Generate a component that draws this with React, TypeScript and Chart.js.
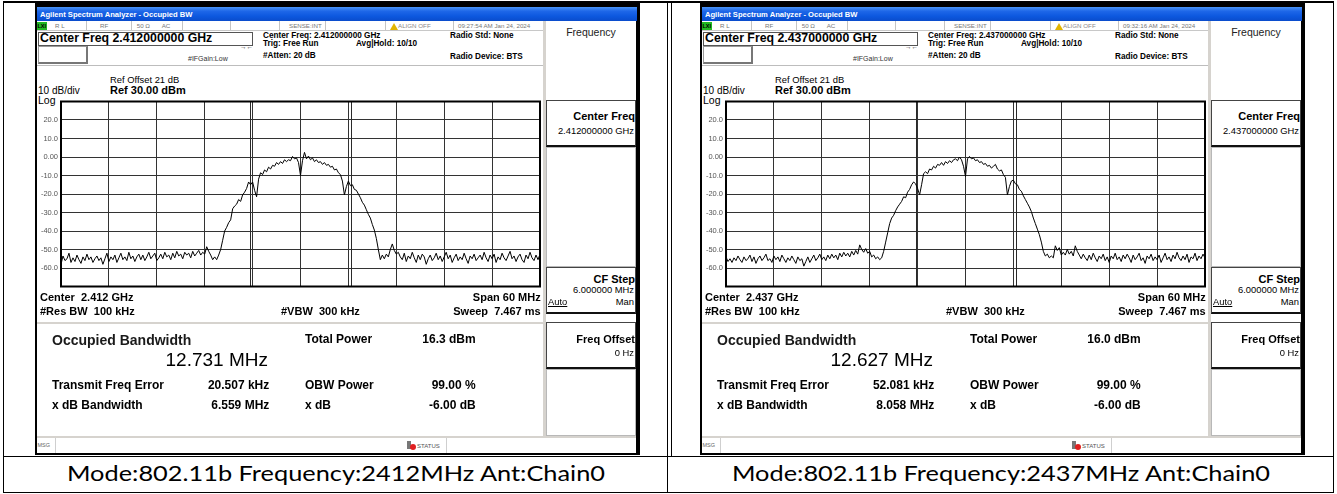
import React, { useEffect, useLayoutEffect, useRef } from 'react';
import { Chart, registerables } from 'chart.js';

Chart.register(...registerables);

// ---------------- data ----------------
const CHANNELS_MHZ = ['2412', '2437'];
const CENTER_GHZ = ['2.412', '2.437'];
const TIMESTAMPS = ['09:27:54 AM Jan 24, 2024', '09:32:16 AM Jan 24, 2024'];
const OBW_MHZ = [12.731, 12.627];
const FREQ_ERR_KHZ = [20.507, 52.081];
const XDB_BW_MHZ = [6.559, 8.058];
const TOTAL_POWER_DBM = [16.3, 16.0];
const OBW_POWER_PCT = 99.0;
const XDB_DB = -6.0;
const SPAN_MHZ = 60;
const REF_LEVEL_DBM = 30;
const DB_PER_DIV = 10;

// trace values (dBm), evenly spaced across the 60 MHz span (241 points)
const TRACE_2412 = [
  -58, -53.5, -56, -55, -52, -57, -54.5, -56.5, -53, -55.5,
  -57.5, -54, -56, -52.5, -55.5, -54, -57, -55, -53.5, -56,
  -54.5, -58, -55, -52, -56.5, -54, -55.5, -53, -57, -54.5,
  -52, -55.5, -54, -56, -51.5, -55, -53.5, -56.5, -54, -52.5,
  -55.5, -53, -56, -54, -51.5, -55, -53.5, -52, -56, -54.5,
  -52.5, -55, -51.5, -54, -53, -55.5, -52, -54.5, -51, -53.5,
  -52.5, -55, -51.5, -53, -52, -54.5, -51, -53.5, -52, -50.5,
  -53, -51.5, -52.5, -48.5, -51, -53, -55.5, -54, -55.5, -53,
  -50, -45, -40, -38, -35.5, -34, -28, -26.5, -25.5, -23,
  -24, -20.5, -19, -17, -13.5, -15, -13.5, -18, -21.5, -12,
  -8.5, -9.5, -7, -8, -5.5, -6.5, -4.5, -5, -3, -4,
  -2.5, -3.5, -1.5, -2.5, -1.5, -2, 0.3, -1, -0.5, -3,
  -10, -2, 2.5, -1, 0.5, -1.5, -0.5, -2.5, -1.5, -3,
  -2.5, -4, -3, -4.5, -4, -5.5, -5, -7, -6.5, -8.5,
  -9.5, -13, -20.5, -16, -13, -15.5, -15, -17.5, -18, -20,
  -22, -24.5, -26, -28.5, -31, -33, -36.5, -39.5, -44, -50,
  -55.5, -53, -55, -52.5, -54, -50, -47, -50.5, -52.5, -51.5,
  -54, -55.5, -52, -56.5, -53.5, -55, -51.5, -54.5, -57, -53,
  -55.5, -52.5, -54, -58, -55, -53, -56, -54.5, -52, -55.5,
  -53.5, -56.5, -54, -51.5, -55, -53, -57, -54.5, -52.5, -56,
  -54, -55.5, -52, -55, -57.5, -53.5, -55, -52.5, -56, -54.5,
  -53, -55.5, -51.5, -54.5, -56.5, -53, -55, -52.5, -57, -54,
  -55.5, -52, -54.5, -56, -53.5, -51, -55, -53.5, -56.5, -54,
  -52.5, -55.5, -57, -53, -55, -51.5, -54.5, -56, -53, -55.5,
  -52.5,
];

const TRACE_2437 = [
  -54, -56.5, -55, -57, -54.5, -56, -53.5, -55.5, -57, -54,
  -56, -55, -53, -56.5, -54, -57.5, -55, -53.5, -56, -54.5,
  -52.5, -56, -55, -57, -53.5, -55.5, -54, -56.5, -53, -55,
  -57, -54.5, -56, -53.5, -55.5, -57.5, -54, -56, -55, -59,
  -56.5, -54, -57, -55, -53, -56, -54.5, -52.5, -55.5, -54,
  -56, -53, -55, -52.5, -54.5, -53, -55.5, -52, -54, -51.5,
  -53.5, -52, -54, -51, -53, -50.5, -52.5, -47.5, -50, -51.5,
  -49.5, -52, -51, -54, -53, -55, -54, -55.5, -54.5, -51,
  -46, -41, -36, -33, -31.5, -29, -27, -25.5, -24, -21.5,
  -22, -19, -17.5, -15, -13.5, -14.5, -17, -20.5, -15, -9,
  -8, -9, -6.5, -7, -5, -6, -4, -4.5, -3, -4.5,
  -2.5, -3.5, -2, -3, -1.5, -1, -2, 0, -1.5, -5,
  -10.5, -1, 0.3, -1, -0.5, -2, -1.5, -3, -2.5, -4,
  -3.5, -5, -4.5, -6, -5, -4, -6.5, -7.5, -7, -9.5,
  -11, -20.5, -16, -13, -12.5, -14.5, -15, -17.5, -18.5, -21,
  -23, -25, -27, -29.5, -33, -36, -39, -42, -46, -51,
  -53.5, -52.5, -54.5, -53.5, -54.5, -48, -50.5, -49, -53, -51.5,
  -53, -50, -52.5, -51, -53.5, -48, -51, -53, -55, -52.5,
  -54.5, -56, -53, -55.5, -52, -54.5, -56.5, -53.5, -55, -52.5,
  -56, -54, -57, -53.5, -55, -52, -55.5, -54, -56.5, -53,
  -55, -52.5, -54.5, -57, -53, -55.5, -54, -52, -56, -54.5,
  -57.5, -53.5, -55, -52.5, -56, -54, -55.5, -53, -57, -54.5,
  -52, -55.5, -54, -56.5, -53, -55, -51.5, -54.5, -56, -53.5,
  -55.5, -52.5, -57, -54, -55, -52, -56, -53.5, -55, -52.5,
  -54.5,
];

const TRACES = [TRACE_2412, TRACE_2437];

// ---------------- helpers ----------------
const FONT = '"Liberation Sans", Arial, sans-serif';

type TProps = {
  x: number; y: number; s: number; b?: boolean; a?: 'l' | 'r' | 'c';
  c?: string; u?: boolean; children: React.ReactNode;
};
function T({ x, y, s, b, a = 'l', c = '#000', u, children }: TProps) {
  const tx = a === 'r' ? 'translateX(-100%)' : a === 'c' ? 'translateX(-50%)' : undefined;
  return (
    <div
      style={{
        position: 'absolute', left: x, top: y - 0.85 * s, fontSize: s, lineHeight: `${s}px`,
        fontWeight: b ? 700 : 400, color: c, whiteSpace: 'pre', transform: tx,
        fontFamily: FONT, textDecoration: u ? 'underline' : undefined,
      }}
    >
      {children}
    </div>
  );
}

function B({ x, y, w, h, s }: { x: number; y: number; w: number; h: number; s?: React.CSSProperties }) {
  return <div style={{ position: 'absolute', left: x, top: y, width: w, height: h, boxSizing: 'border-box', ...s }} />;
}

const framePlugin = {
  id: 'saFrame',
  beforeDatasetsDraw(chart: any, _args: any, opts: any) {
    const { ctx, chartArea, scales } = chart;
    ctx.save();
    ctx.strokeStyle = '#2a2a2a';
    ctx.lineWidth = 1;
    (opts.markers || []).forEach((m: number) => {
      const px = Math.round(scales.x.getPixelForValue(m)) + 0.5;
      ctx.beginPath();
      ctx.moveTo(px, chartArea.top);
      ctx.lineTo(px, chartArea.bottom);
      ctx.stroke();
    });
    ctx.restore();
  },
  afterDraw(chart: any) {
    const { ctx, chartArea } = chart;
    ctx.save();
    ctx.strokeStyle = '#000';
    ctx.lineWidth = 2;
    ctx.strokeRect(chartArea.left, chartArea.top, chartArea.right - chartArea.left, chartArea.bottom - chartArea.top);
    ctx.restore();
  },
};

function Plot({ x, y, trace, markers }: { x: number; y: number; trace: number[]; markers: number[] }) {
  const ref = useRef<HTMLCanvasElement>(null);
  useEffect(() => {
    const half = SPAN_MHZ / 2;
    const step = SPAN_MHZ / (trace.length - 1);
    const pts = trace.map((v, i) => ({ x: -half + i * step, y: v }));
    const top = REF_LEVEL_DBM;
    const bottom = REF_LEVEL_DBM - 10 * DB_PER_DIV;
    const chart = new Chart(ref.current as HTMLCanvasElement, {
      type: 'line',
      data: {
        datasets: [{
          data: pts, borderColor: '#000', borderWidth: 1, pointRadius: 0, tension: 0, fill: false,
        }],
      },
      options: {
        animation: false,
        responsive: false,
        maintainAspectRatio: false,
        events: [],
        layout: { padding: { top: 3, right: 2, bottom: 2, left: 0 }, autoPadding: false },
        plugins: {
          legend: { display: false },
          tooltip: { enabled: false },
          saFrame: { markers },
        } as any,
        scales: {
          x: {
            type: 'linear', min: -half, max: half,
            ticks: { display: false, stepSize: SPAN_MHZ / 10 },
            grid: { color: '#333', drawTicks: false, lineWidth: 1 },
            border: { display: false },
            afterFit: (s: any) => { s.height = 0; },
          },
          y: {
            type: 'linear', min: bottom, max: top,
            ticks: {
              stepSize: DB_PER_DIV, padding: 3, color: '#555',
              font: { family: '"Liberation Sans", Arial, sans-serif', size: 7.5 },
              callback: (v: any) => (v === top || v === bottom ? '' : v === 0 ? '0.00' : Number(v).toFixed(1)),
            },
            grid: { color: '#333', drawTicks: false, lineWidth: 1 },
            border: { display: false },
            afterFit: (s: any) => { s.width = 23; },
          },
        },
      } as any,
      plugins: [framePlugin as any],
    });
    return () => chart.destroy();
  }, []);
  return (
    <canvas
      ref={ref}
      width={504}
      height={200}
      style={{ position: 'absolute', left: x, top: y, width: 504, height: 200 }}
    />
  );
}

function SoftKey({ y, h, strong }: { y: number; h: number; strong?: boolean }) {
  return (
    <B x={511} y={y} w={90} h={h} s={{
      background: '#fff',
      border: strong ? '1px solid #444' : '1px solid #b8b8b8',
      borderBottom: strong ? '2px solid #111' : '1px solid #b8b8b8',
    }} />
  );
}

function Screen({ x0, idx }: { x0: number; idx: number }) {
  const cf = `${CENTER_GHZ[idx]}000000`;
  const ferrMHz = FREQ_ERR_KHZ[idx] / 1000;
  const obw = OBW_MHZ[idx];
  const markers = [ferrMHz - obw / 2, ferrMHz + obw / 2];
  const sep = '#d6d3ce';
  const statusSeps = [51, 96, 146.7, 195, 244.3, 290, 350, 417.7];
  return (
    <div style={{ position: 'absolute', left: x0, top: 0, width: 606, height: 456 }}>
      <B x={0} y={3} w={605} h={452} s={{ background: '#000' }} />
      <B x={2} y={7} w={599} h={446} s={{ background: '#fff' }} />
      {/* title bar */}
      <B x={2} y={7} w={600} h={13.5} s={{ background: 'linear-gradient(to bottom, #4a94f7 0%, #1e67e8 30%, #0d58df 65%, #0a4ccc 100%)' }} />
      <T x={5} y={17.3} s={7.6} b c="#fff">Agilent Spectrum Analyzer - Occupied BW</T>
      {/* status row */}
      <B x={2} y={20.5} w={506} h={10} s={{ background: '#fff', borderBottom: '1px solid #c8c8c8' }} />
      {statusSeps.map((sx) => <B key={sx} x={sx} y={21} w={1} h={9} s={{ background: '#c4c4c4' }} />)}
      <B x={2} y={21.5} w={10} h={8} s={{ background: '#22b822' }} />
      <T x={2.5} y={28.3} s={5.5} b>LXI</T>
      <T x={20} y={28.3} s={6.2} c="#777">R L</T>
      <T x={65} y={28.3} s={6.2} c="#777">RF</T>
      <T x={101.7} y={28.3} s={6.2} c="#777">50 Ω</T>
      <T x={126.7} y={28.3} s={6.2} c="#777">AC</T>
      <T x={254} y={28.3} s={6.2} c="#777">SENSE:INT</T>
      <div style={{ position: 'absolute', left: 355, top: 22.5, width: 0, height: 0, borderLeft: '4px solid transparent', borderRight: '4px solid transparent', borderBottom: '7px solid #e2b400' }} />
      <T x={363} y={28.3} s={6.2} c="#888">ALIGN OFF</T>
      <T x={423} y={28.3} s={6.2} c="#777">{TIMESTAMPS[idx]}</T>
      {/* center freq header */}
      <B x={3} y={31.5} w={215} h={14} s={{ border: '1px solid #555', background: '#fff' }} />
      <T x={5} y={42.5} s={12.3} b>{`Center Freq ${cf} GHz`}</T>
      <B x={3} y={46} w={50} h={17.5} s={{ border: '1px solid #9a9a9a', borderRight: '2px solid #777', borderBottom: '2px solid #777' }} />
      <T x={205} y={50} s={6.5} c="#333">→←</T>
      <T x={153} y={61} s={7} c="#333">#IFGain:Low</T>
      <T x={228} y={39} s={8.2} b>{`Center Freq: ${cf} GHz`}</T>
      <T x={228} y={46.5} s={8.2} b>Trig: Free Run</T>
      <T x={321} y={46.5} s={8.2} b>Avg|Hold: 10/10</T>
      <T x={228} y={59} s={8.2} b>#Atten: 20 dB</T>
      <T x={415} y={38.5} s={8.2} b>Radio Std: None</T>
      <T x={415} y={59.5} s={8.2} b>Radio Device: BTS</T>
      <B x={2} y={64.5} w={506} h={1} s={{ background: '#bdbdbd' }} />
      {/* ref text */}
      <T x={75} y={83} s={9.4}>Ref Offset 21 dB</T>
      <T x={75} y={94} s={11} b>{`Ref ${REF_LEVEL_DBM.toFixed(2)} dBm`}</T>
      <T x={3} y={94} s={10}>{`${DB_PER_DIV} dB/div`}</T>
      <T x={3} y={104} s={10.5}>Log</T>
      {/* plot */}
      <Plot x={3} y={94} trace={TRACES[idx]} markers={markers} />
      {/* below plot */}
      <T x={5} y={301.5} s={11} b>{`Center  ${CENTER_GHZ[idx]} GHz`}</T>
      <T x={5} y={315} s={11} b>#Res BW  100 kHz</T>
      <T x={246} y={315} s={11} b>#VBW  300 kHz</T>
      <T x={505.7} y={301.5} s={11} b a="r">{`Span ${SPAN_MHZ} MHz`}</T>
      <T x={505.7} y={315} s={11} b a="r">Sweep  7.467 ms</T>
      {/* results panel */}
      <B x={2} y={321.5} w={508} h={115} s={{ background: '#fff', borderTop: `2px solid ${sep}`, borderRight: `2px solid ${sep}` }} />
      <T x={17} y={344.5} s={14} b c="#1a1a1a">Occupied Bandwidth</T>
      <T x={233} y={366} s={19} c="#000" a="r">{`${obw.toFixed(3)} MHz`}</T>
      <T x={17} y={389.3} s={12} b>Transmit Freq Error</T>
      <T x={234.3} y={389.3} s={12} b a="r">{`${FREQ_ERR_KHZ[idx].toFixed(3)} kHz`}</T>
      <T x={17} y={409.3} s={12} b>x dB Bandwidth</T>
      <T x={234.3} y={409.3} s={12} b a="r">{`${XDB_BW_MHZ[idx].toFixed(3)} MHz`}</T>
      <T x={270} y={342.7} s={12} b>Total Power</T>
      <T x={440.7} y={342.7} s={12} b a="r">{`${TOTAL_POWER_DBM[idx].toFixed(1)} dBm`}</T>
      <T x={270} y={389.3} s={12} b>OBW Power</T>
      <T x={440.7} y={389.3} s={12} b a="r">{`${OBW_POWER_PCT.toFixed(2)} %`}</T>
      <T x={270} y={409.3} s={12} b>x dB</T>
      <T x={440.7} y={409.3} s={12} b a="r">{`${XDB_DB.toFixed(2)} dB`}</T>
      {/* msg bar */}
      <B x={2} y={435.5} w={599} h={17.5} s={{ background: '#fff', borderTop: `2px solid ${sep}` }} />
      <T x={2.5} y={448} s={5.5} c="#666">MSG</T>
      <B x={20} y={438} w={1} h={15} s={{ background: '#cfcfcf' }} />
      <B x={372} y={441} w={4} h={8} s={{ background: '#777' }} />
      <B x={374.5} y={444} w={6} h={6} s={{ background: '#e02020', borderRadius: '50%' }} />
      <T x={382} y={448.5} s={6} c="#555">STATUS</T>
      <B x={411} y={438} w={1} h={15} s={{ background: '#cfcfcf' }} />
      {/* softkey panel */}
      <B x={508} y={20.5} w={3} h={415} s={{ background: sep }} />
      <T x={556} y={36} s={10.5} c="#222" a="c">Frequency</T>
      <SoftKey y={100} h={47} strong />
      <T x={600} y={120} s={11} b a="r">Center Freq</T>
      <T x={599} y={134.3} s={9.4} a="r">{`${cf} GHz`}</T>
      <SoftKey y={147} h={119.5} />
      <SoftKey y={266.5} h={47} strong />
      <T x={600} y={283} s={11} b a="r">CF Step</T>
      <T x={599} y={293.3} s={9.4} a="r">6.000000 MHz</T>
      <T x={513} y={305} s={9.4} u>Auto</T>
      <T x={599} y={305} s={9.4} a="r">Man</T>
      <SoftKey y={321.7} h={47} strong />
      <T x={600} y={343.3} s={11} b a="r">Freq Offset</T>
      <T x={599} y={356} s={9.4} a="r">0 Hz</T>
      <SoftKey y={368.7} h={67} />
    </div>
  );
}

function Caption({ cx, text, targetWidth }: { cx: number; text: string; targetWidth: number }) {
  const ref = useRef<HTMLDivElement>(null);
  useLayoutEffect(() => {
    const el = ref.current;
    if (!el) return;
    const w = el.scrollWidth || 1;
    el.style.transform = `translateX(-50%) scaleX(${targetWidth / w})`;
  }, []);
  return (
    <div
      ref={ref}
      style={{
        position: 'absolute', left: cx, top: 462.8, fontFamily: 'Lato, "Open Sans", sans-serif', fontSize: 20.5,
        lineHeight: '20.5px', whiteSpace: 'nowrap', color: '#000',
        transform: 'translateX(-50%)',
      }}
    >
      {text}
    </div>
  );
}

export default function App() {
  return (
    <div style={{ position: 'fixed', left: 0, top: 0, width: 1337, height: 494, background: '#fff', overflow: 'hidden' }}>
      {/* table grid */}
      <B x={3} y={1} w={1331} h={2} s={{ background: '#000' }} />
      <B x={3} y={1} w={1} h={492} s={{ background: '#000' }} />
      <B x={1333} y={1} w={1} h={492} s={{ background: '#000' }} />
      <B x={667} y={1} w={1} h={492} s={{ background: '#000' }} />
      <B x={671} y={1} w={1} h={455} s={{ background: '#000' }} />
      <B x={3} y={456} w={1331} h={1} s={{ background: '#000' }} />
      <B x={3} y={492} w={1331} h={1} s={{ background: '#000' }} />
      <Screen x0={35} idx={0} />
      <Screen x0={700} idx={1} />
      <Caption cx={335.5} targetWidth={538} text={`Mode:802.11b Frequency:${CHANNELS_MHZ[0]}MHz Ant:Chain0`} />
      <Caption cx={1001} targetWidth={538} text={`Mode:802.11b Frequency:${CHANNELS_MHZ[1]}MHz Ant:Chain0`} />
    </div>
  );
}
